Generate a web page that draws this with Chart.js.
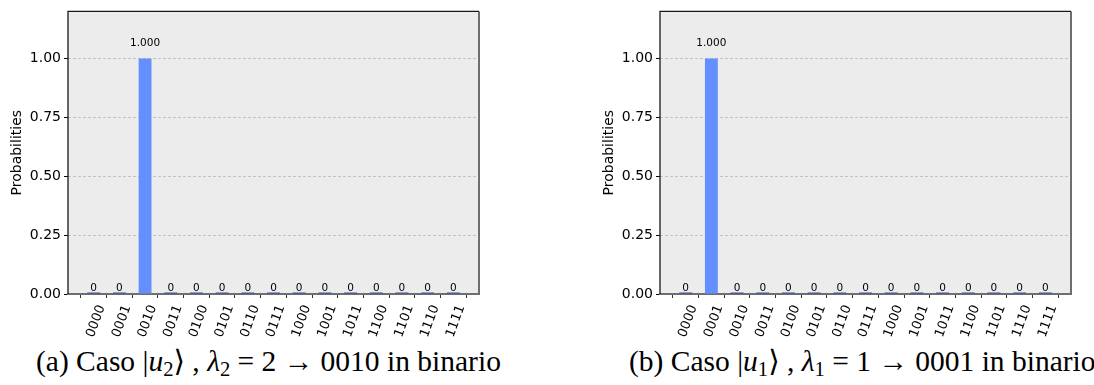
<!DOCTYPE html>
<html>
<head>
<meta charset="utf-8">
<script src="https://cdn.jsdelivr.net/npm/chart.js@4.4.0/dist/chart.umd.min.js"></script>
<style>
  html, body { margin: 0; padding: 0; background: #fff; }
  body { width: 1094px; height: 385px; position: relative; overflow: hidden; }
  .panel { position: absolute; top: 0; width: 500px; height: 340px; }
  .caption {
    position: absolute; top: 343px; height: 36px; line-height: 36px;
    font-family: "Liberation Serif", "DejaVu Serif", serif; font-size: 29.5px;
    white-space: nowrap; color: #000;
  }
  .caption sub { font-size: 0.7em; vertical-align: -0.25em; line-height: 0; }
</style>
</head>
<body>
<div class="panel" style="left:0"><canvas id="chartA"></canvas></div>
<div class="panel" style="left:592px"><canvas id="chartB"></canvas></div>
<div class="caption" style="left:36px">(a) Caso |<i>u</i><sub>2</sub>⟩ , <i>λ</i><sub>2</sub> = 2 → 0010 in binario</div>
<div class="caption" style="left:629px">(b) Caso |<i>u</i><sub>1</sub>⟩ , <i>λ</i><sub>1</sub> = 1 → 0001 in binario</div>

<script>
// measured states (note: 1010 is absent in the source plot)
const STATES = ['0000', '0001', '0010', '0011', '0100', '0101', '0110', '0111',
                '1000', '1001', '1011', '1100', '1101', '1110', '1111'];
const PROBS_A = [0, 0, 1, 0, 0, 0, 0, 0, 0, 0, 0, 0, 0, 0, 0];
const PROBS_B = [0, 1, 0, 0, 0, 0, 0, 0, 0, 0, 0, 0, 0, 0, 0];
const Y_TICKS = [0, 0.25, 0.5, 0.75, 1.0];
const Y_MAX = 1.2;

const BAR = '#648fff';
const BAR_ZERO = '#2f4f9f';
const PLOT_BG = '#ececec';

Chart.defaults.color = '#000';
Chart.defaults.font.family = '"DejaVu Sans", sans-serif';

const frame = {
  id: 'frame',
  beforeDraw(chart) {
    const { ctx, chartArea: a } = chart;
    ctx.save();
    ctx.fillStyle = PLOT_BG;
    ctx.fillRect(a.left, a.top, a.right - a.left, a.bottom - a.top);
    ctx.restore();
  },
  afterDatasetsDraw(chart) {
    const { ctx } = chart;
    const y = chart.scales.y;
    const meta = chart.getDatasetMeta(0);
    const vals = chart.data.datasets[0].data;
    ctx.save();
    ctx.fillStyle = '#000';
    ctx.textAlign = 'center';
    ctx.textBaseline = 'alphabetic';
    ctx.font = '10.5px "DejaVu Sans", sans-serif';
    meta.data.forEach((bar, i) => {
      const v = vals[i].y;
      const txt = v === 0 ? '0' : v.toFixed(3);
      ctx.fillText(txt, bar.x, y.getPixelForValue(v) - (v === 0 ? 3 : 13));
    });
    ctx.restore();
  },
  afterDraw(chart) {
    const { ctx, chartArea: a } = chart;
    ctx.save();
    ctx.lineWidth = 2;
    ctx.strokeStyle = '#6e6e6e';
    ctx.beginPath();
    ctx.moveTo(a.right, a.bottom); ctx.lineTo(a.right, a.top);
    ctx.stroke();
    ctx.lineWidth = 1.3;
    ctx.strokeStyle = '#1a1a1a';
    ctx.beginPath();
    ctx.moveTo(a.left, a.bottom); ctx.lineTo(a.left, a.top); ctx.lineTo(a.right, a.top);
    ctx.stroke();
    ctx.restore();
  },
};

function histogram(id, probs) {
  new Chart(document.getElementById(id), {
    type: 'bar',
    data: {
      datasets: [{
        data: probs.map((p, i) => ({ x: i, y: p })),
        backgroundColor: (c) => (c.raw && c.raw.y === 0 ? BAR_ZERO : BAR),
        categoryPercentage: 1,
        barPercentage: 0.5,
        minBarLength: 1.5,
      }],
    },
    options: {
      responsive: true,
      maintainAspectRatio: false,
      animation: false,
      events: [],
      layout: { padding: { top: 8, right: 21, left: 0, bottom: 0 } },
      plugins: { legend: { display: false }, tooltip: { enabled: false } },
      scales: {
        x: {
          type: 'linear',
          offset: false,
          min: -1,
          max: STATES.length,
          afterBuildTicks: (s) => { s.ticks = STATES.map((_, i) => ({ value: i })); },
          afterFit: (s) => { s.height = 46; },
          grid: { display: true, drawOnChartArea: false, drawTicks: true, tickLength: 4, tickColor: '#333', tickWidth: 1 },
          border: { display: true, color: '#6e6e6e', width: 2 },
          ticks: {
            autoSkip: false,
            minRotation: 70,
            maxRotation: 70,
            labelOffset: 8,
            padding: 5,
            font: { size: 13 },
            callback: (v) => STATES[v],
          },
        },
        y: {
          min: 0,
          max: Y_MAX,
          afterBuildTicks: (s) => { s.ticks = Y_TICKS.map((v) => ({ value: v })); },
          afterFit: (s) => { s.width = 68; },
          grid: { color: '#c2c2c2', lineWidth: 1, tickColor: '#000', tickLength: 4, tickBorderDash: [] },
          border: { display: false, dash: [3, 2] },
          ticks: {
            padding: 3,
            font: { size: 14 },
            callback: (v) => Number(v).toFixed(2),
          },
          title: { display: true, text: 'Probabilities', font: { size: 14 }, padding: { top: 9, bottom: 0 } },
        },
      },
    },
    plugins: [frame],
  });
}

histogram('chartA', PROBS_A);
histogram('chartB', PROBS_B);
</script>
</body>
</html>
